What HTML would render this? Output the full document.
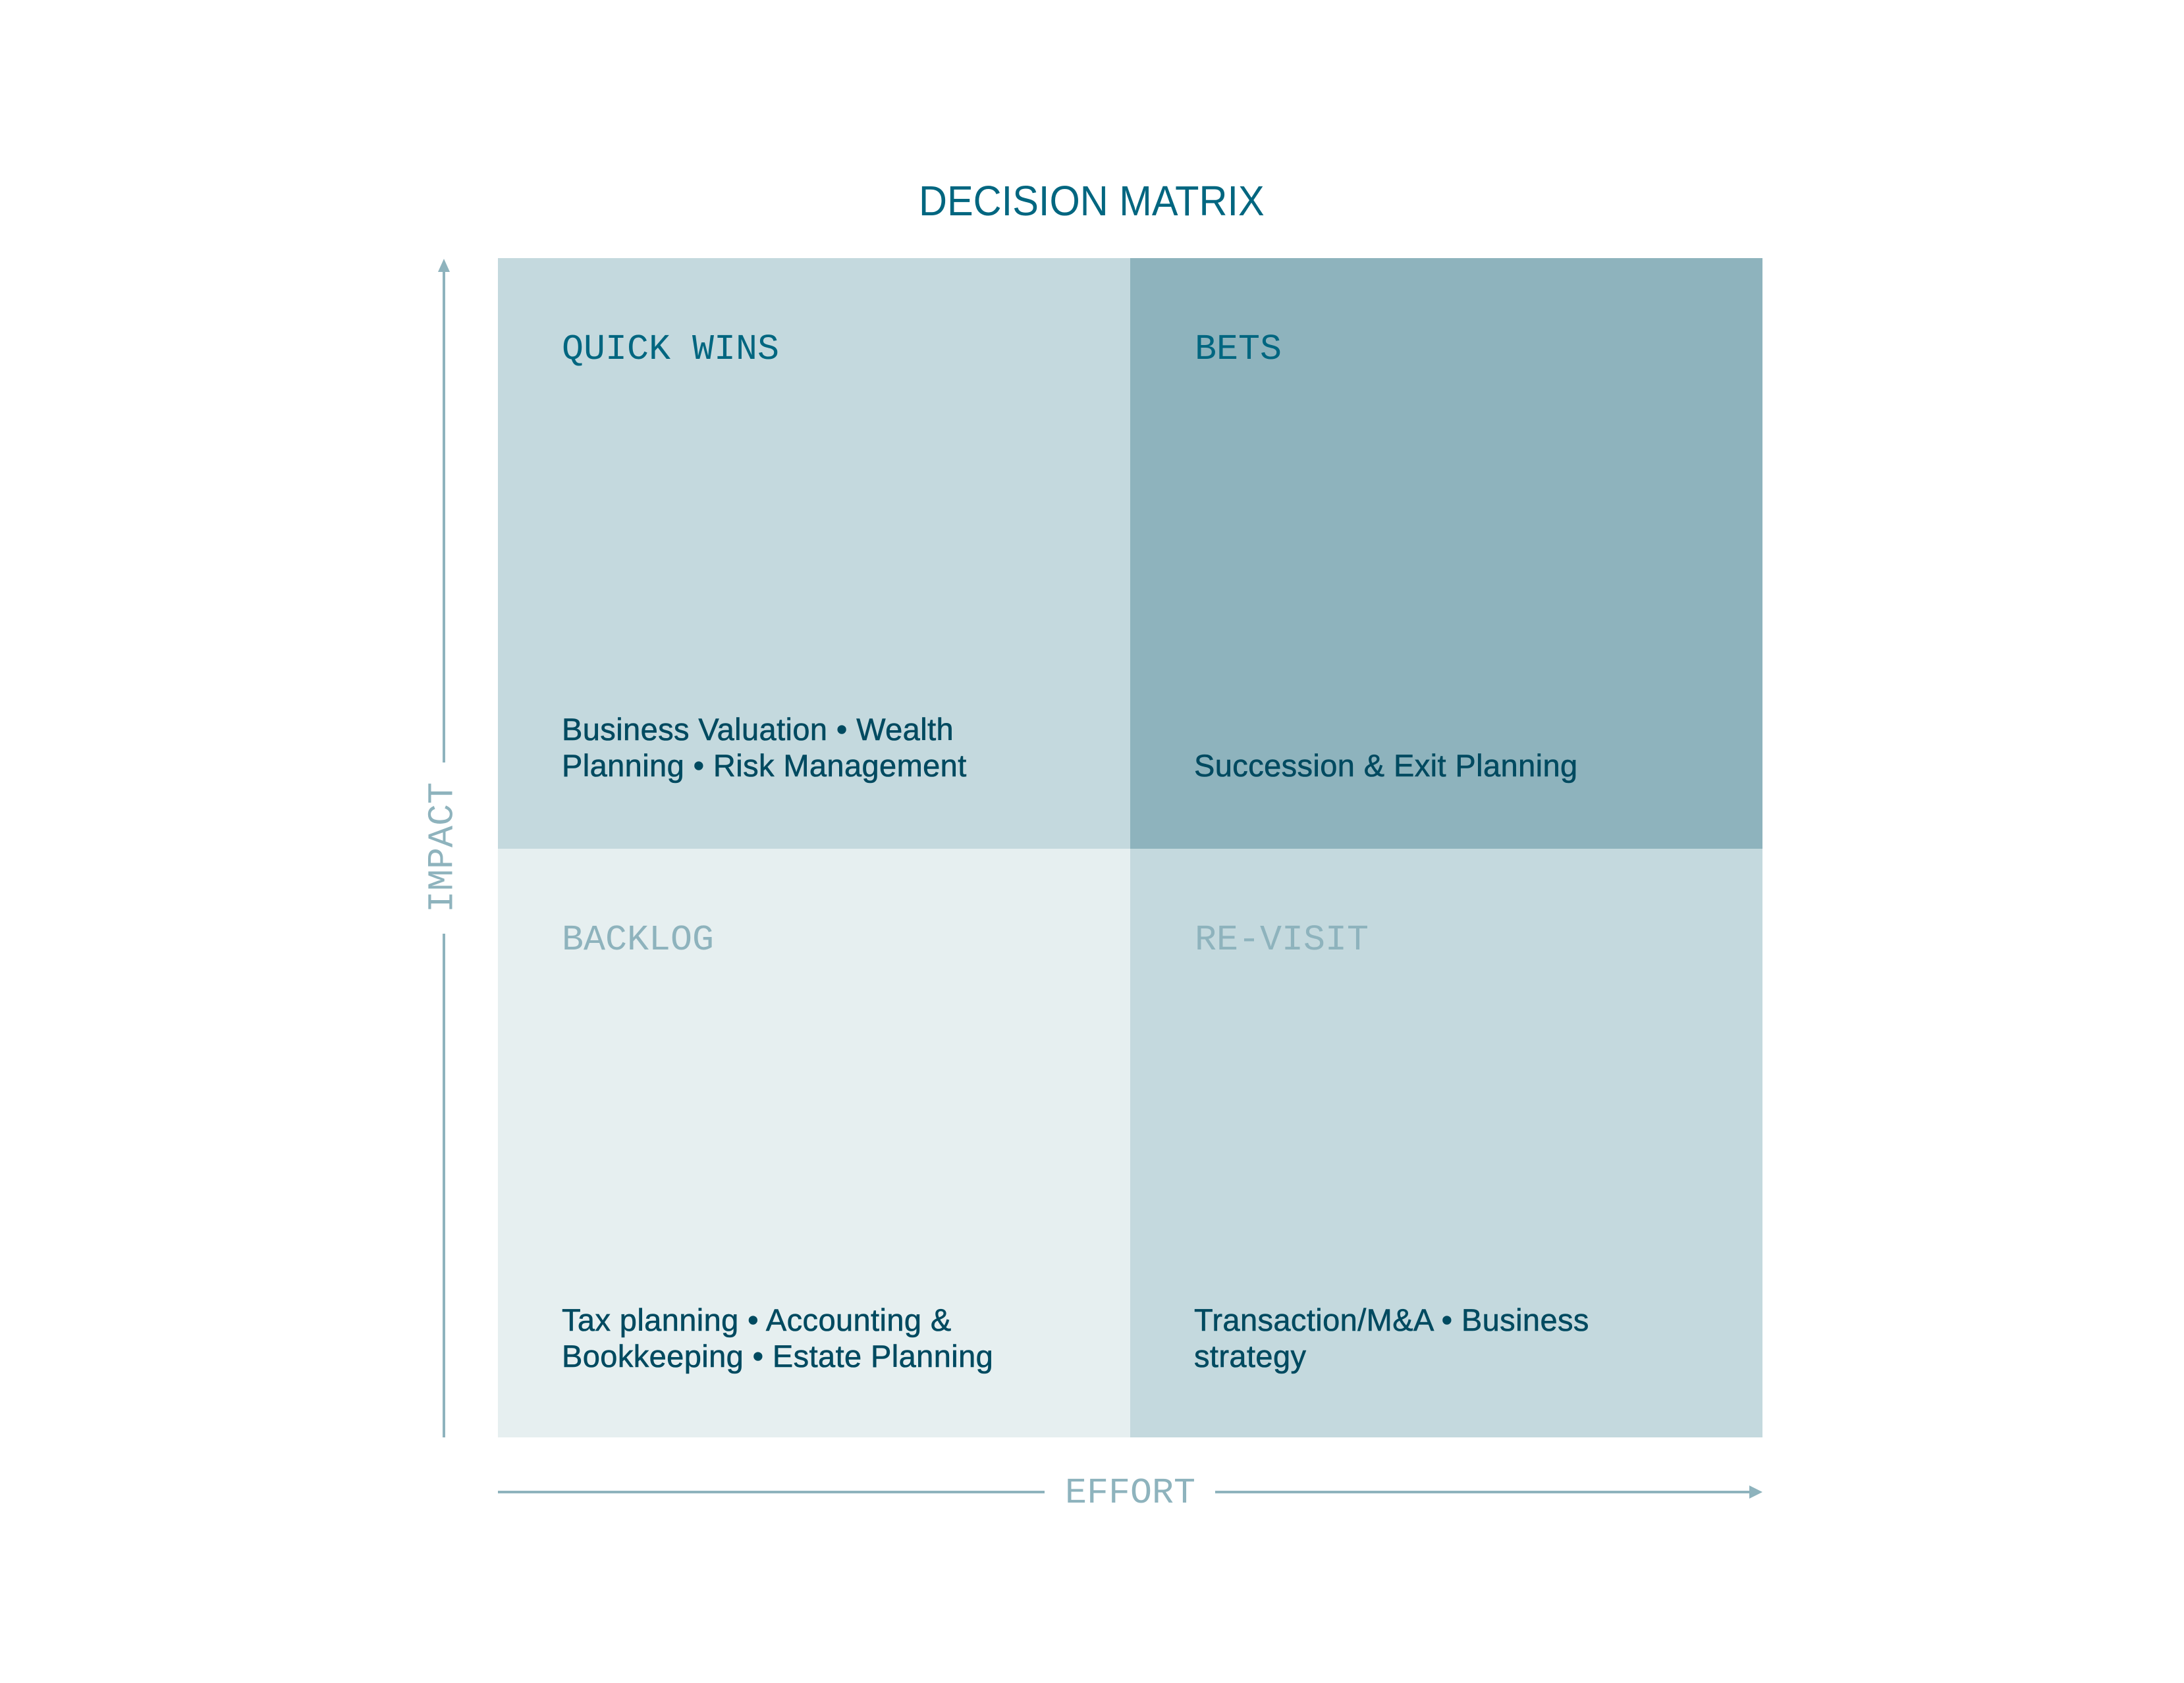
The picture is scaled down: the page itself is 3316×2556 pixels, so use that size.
<!DOCTYPE html>
<html><head><meta charset="utf-8"><style>
html,body{margin:0;padding:0;background:#fff;}
body{width:3316px;height:2556px;position:relative;overflow:hidden;}
.q{position:absolute;}
.t{position:absolute;font-family:"Liberation Sans",sans-serif;}
.m{position:absolute;font-family:"Liberation Mono",monospace;font-size:55px;line-height:1;white-space:nowrap;}
.b{position:absolute;font-family:"Liberation Sans",sans-serif;font-size:47px;letter-spacing:0.4px;line-height:55px;color:#004a60;white-space:nowrap;-webkit-text-stroke:0.6px #004a60;}
</style></head><body>
<div class="t" style="left:1395px;top:270px;font-size:64px;line-height:70px;color:#006680;transform:scaleX(0.93);transform-origin:left top;white-space:nowrap;">DECISION MATRIX</div>
<div class="q" style="left:756px;top:392px;width:960px;height:897px;background:#c4d9de;"></div>
<div class="q" style="left:1716px;top:392px;width:960px;height:897px;background:#8eb3bd;"></div>
<div class="q" style="left:756px;top:1289px;width:960px;height:894px;background:#e6eff0;"></div>
<div class="q" style="left:1716px;top:1289px;width:960px;height:894px;background:#c4d9de;"></div>

<div class="m" style="left:853px;top:503px;color:#006680;">QUICK WINS</div>
<div class="m" style="left:1814px;top:503px;color:#006680;">BETS</div>
<div class="m" style="left:853px;top:1400px;color:#8eb3bd;">BACKLOG</div>
<div class="m" style="left:1814px;top:1400px;color:#8eb3bd;">RE-VISIT</div>

<div class="b" style="left:853px;top:1080px;">Business Valuation • Wealth<br>Planning • Risk Management</div>
<div class="b" style="left:1813px;top:1135px;">Succession &amp; Exit Planning</div>
<div class="b" style="left:853px;top:1977px;">Tax planning • Accounting &amp;<br>Bookkeeping • Estate Planning</div>
<div class="b" style="left:1813px;top:1977px;">Transaction/M&amp;A • Business<br>strategy</div>

<svg class="q" style="left:0;top:0" width="3316" height="2556">
<g stroke="#8eb3bd" stroke-width="4" fill="none">
<line x1="674" y1="410" x2="674" y2="1158"/>
<line x1="674" y1="1418" x2="674" y2="2183"/>
<line x1="756" y1="2266" x2="1586" y2="2266"/>
<line x1="1845" y1="2266" x2="2660" y2="2266"/>
</g>
<polygon points="674,393 665,413 683,413" fill="#8eb3bd"/>
<polygon points="2676,2266 2656,2256 2656,2276" fill="#8eb3bd"/>
</svg>
<div class="m" style="left:1617px;top:2240px;color:#8eb3bd;">EFFORT</div>
<div class="m" style="left:672px;top:1287px;color:#8eb3bd;transform:translate(-50%,-50%) rotate(-90deg);">IMPACT</div>
</body></html>
